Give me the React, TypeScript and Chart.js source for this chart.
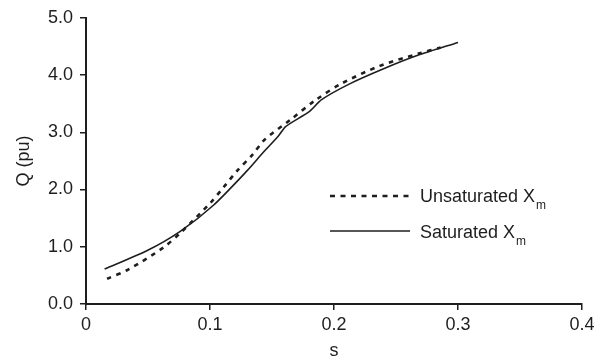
import React, { useEffect, useRef } from "react";
import { Chart, registerables } from "chart.js";

Chart.register(...registerables);

// Unsaturated Xm (dashed)
const unsatS = [0.017, 0.034, 0.062, 0.076, 0.100, 0.111, 0.122, 0.134, 0.144, 0.165, 0.185, 0.206, 0.237, 0.269, 0.286];
const unsatQ = [0.44, 0.60, 0.98, 1.24, 1.76, 2.04, 2.33, 2.60, 2.87, 3.22, 3.56, 3.85, 4.16, 4.38, 4.48];

// Saturated Xm (solid)
const satS = [0.015, 0.049, 0.076, 0.103, 0.130, 0.143, 0.155, 0.161, 0.180, 0.190, 0.213, 0.240, 0.267, 0.300];
const satQ = [0.61, 0.93, 1.27, 1.73, 2.33, 2.65, 2.93, 3.10, 3.36, 3.57, 3.85, 4.11, 4.34, 4.57];

const legendLabels = ["Unsaturated X", "Saturated X"];
const legendSub = "m";
const xTitle = "s";
const yTitle = "Q (pu)";

const INK = "#1e1e1e";
const FONT = "'Liberation Sans', Arial, sans-serif";

const legendPlugin = {
  id: "customLegend",
  afterDraw(chart: any) {
    const ctx = chart.ctx;
    ctx.save();
    ctx.strokeStyle = INK;
    ctx.fillStyle = INK;
    const rows = [
      { y: 196, base: 202, dash: [5, 5.5], width: 2.6 },
      { y: 231, base: 238, dash: [], width: 1.6 },
    ];
    rows.forEach((r, i) => {
      ctx.beginPath();
      ctx.setLineDash(r.dash);
      ctx.lineWidth = r.width;
      ctx.moveTo(330, r.y);
      ctx.lineTo(410, r.y);
      ctx.stroke();
      ctx.setLineDash([]);
      ctx.font = `18px ${FONT}`;
      ctx.textBaseline = "alphabetic";
      ctx.textAlign = "left";
      ctx.fillText(legendLabels[i], 420, r.base);
      const w = ctx.measureText(legendLabels[i]).width;
      ctx.font = `12px ${FONT}`;
      ctx.fillText(legendSub, 420 + w + 1, r.base + 6.5);
    });
    ctx.restore();
  },
};

export default function App() {
  const ref = useRef<HTMLCanvasElement | null>(null);
  useEffect(() => {
    if (!ref.current) return;
    const chart = new Chart(ref.current, {
      type: "scatter",
      data: {
        datasets: [
          {
            label: "Unsaturated",
            data: unsatS.map((s, i) => ({ x: s, y: unsatQ[i] })),
            showLine: true,
            borderColor: INK,
            borderWidth: 2.6,
            borderDash: [4.5, 5.5],
            pointRadius: 0,
            tension: 0.3,
            fill: false,
          },
          {
            label: "Saturated",
            data: satS.map((s, i) => ({ x: s, y: satQ[i] })),
            showLine: true,
            borderColor: INK,
            borderWidth: 1.6,
            pointRadius: 0,
            tension: 0.25,
            fill: false,
          },
        ],
      },
      options: {
        animation: false,
        responsive: false,
        events: [],
        layout: { padding: { top: 13, right: 20, left: 0, bottom: 0 } },
        plugins: { legend: { display: false }, tooltip: { enabled: false } },
        scales: {
          x: {
            type: "linear",
            min: 0,
            max: 0.4,
            afterFit: (s: any) => { s.height = 58; },
            ticks: {
              stepSize: 0.1,
              color: INK,
              font: { family: FONT, size: 18 },
              padding: 4,
              maxRotation: 0,
              callback: (v: any) => (Math.abs(v) < 1e-9 ? "0" : Number(v).toFixed(1)),
            },
            grid: { drawOnChartArea: false, drawTicks: true, tickLength: 6, color: INK, lineWidth: 1.5 },
            border: { display: true, color: INK, width: 2 },
            title: { display: true, text: xTitle, color: INK, font: { family: FONT, size: 18 }, padding: { top: 0, bottom: 0 } },
          },
          y: {
            type: "linear",
            min: 0,
            max: 5,
            afterFit: (s: any) => { s.width = 86; },
            ticks: {
              stepSize: 1,
              color: INK,
              font: { family: FONT, size: 18 },
              padding: 7,
              callback: (v: any) => Number(v).toFixed(1),
            },
            grid: { drawOnChartArea: false, drawTicks: true, tickLength: 6, color: INK, lineWidth: 1.5 },
            border: { display: true, color: INK, width: 2 },
            title: { display: true, text: yTitle, color: INK, font: { family: FONT, size: 18 }, padding: { top: 13, bottom: 0 } },
          },
        },
      },
      plugins: [legendPlugin],
    } as any);
    return () => chart.destroy();
  }, []);
  return (
    <div style={{ position: "absolute", left: 0, top: 0, width: 602, height: 362, background: "#fff" }}>
      <canvas ref={ref} width={602} height={362} />
    </div>
  );
}
